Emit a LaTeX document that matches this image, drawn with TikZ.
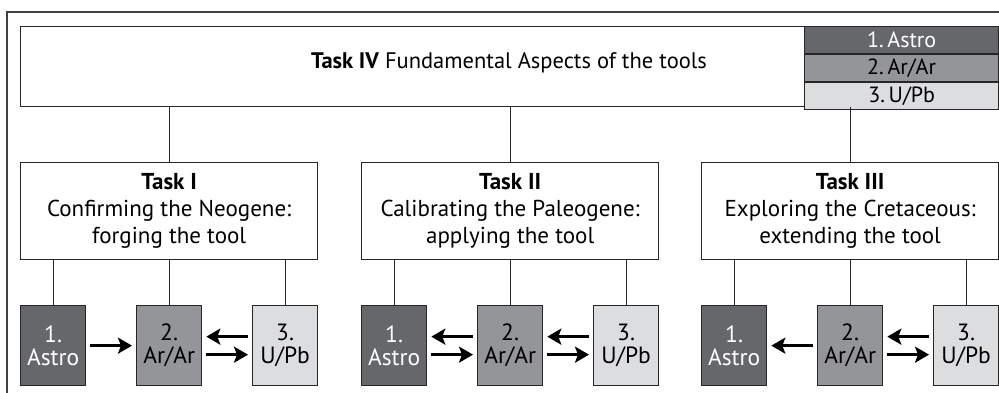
\documentclass[tikz,border=0pt]{standalone}
\usepackage{fontspec}
\setmainfont{PT Sans}
\usetikzlibrary{arrows.meta}
\definecolor{astro}{HTML}{66676A}
\definecolor{arar}{HTML}{939598}
\definecolor{upb}{HTML}{DCDDDF}
\tikzset{
  frame/.style={draw=black!85, line width=1.3pt},
  taskbox/.style={frame, fill=white, minimum width=297pt, minimum height=97pt,
    align=center, anchor=north west, inner sep=0pt, font=\fontsize{23}{27}\selectfont},
  toolbox/.style={frame, minimum width=65pt, minimum height=80pt, align=center,
    anchor=north west, inner sep=0pt, font=\fontsize{23.5}{23}\selectfont},
  keybox/.style={frame, minimum width=194pt, minimum height=26.7pt, anchor=north west,
    inner sep=0pt, font=\fontsize{22}{22}\selectfont},
  flow/.style={-{Stealth[length=14pt,width=16pt,inset=3pt]}, line width=3.6pt},
}

\begin{document}
\begin{tikzpicture}[x=1pt, y=-1pt]
        \clip (0,0) rectangle (999,392);
        \useasboundingbox (0,0) rectangle (999,392);
        % outer frame (cut off at right and bottom)
        \draw[line width=1.2pt, black!75] (7,12) rectangle (1010,410);

        % Task IV and key
        \node[frame, fill=white, minimum width=978pt, minimum height=80pt, anchor=north west, inner sep=0pt] (taskIV) at (20,26) {};
        \node[font=\fontsize{22.5}{22}\selectfont] (taskIVtext) at (509,63) {\textbf{Task IV} Fundamental Aspects of the tools};
        \node[keybox, fill=astro, text=white] (keyA) at (804,26) {1.\,Astro};
        \node[keybox, fill=arar, anchor=north] (keyB) at (keyA.south) {2.\,Ar/Ar};
        \node[keybox, fill=upb, anchor=north] (keyC) at (keyB.south) {3.\,U/Pb};

        % the three tasks
        \node[taskbox] (taskI) at (20,162) {\textbf{Task I}\\Confirming the Neogene:\\forging the tool};
        \node[taskbox] (taskII) at (361,162) {\textbf{Task II}\\Calibrating the Paleogene:\\applying the tool};
        \node[taskbox] (taskIII) at (701,162) {\textbf{Task III}\\Exploring the Cretaceous:\\extending the tool};

        \foreach \t in {taskI, taskII, taskIII}
          \draw[frame] (\t.north) -- (\t.north |- taskIV.south);

        % tool boxes
        \foreach \t/\n/\x in {taskI/1/20, taskII/2/361, taskIII/3/701} {
          \node[toolbox, fill=astro, text=white] (astro\n) at (\x,305) {1.\\Astro};
          \node[toolbox, fill=arar] (arar\n) at (\x+116,305) {2.\\Ar/Ar};
          \node[toolbox, fill=upb] (upb\n) at (\x+232,305) {3.\\U/Pb};
          \foreach \b in {astro\n, arar\n, upb\n}
            \draw[frame] (\b.north) -- (\b.north |- \t.south);
        }

        % Task I
        \draw[flow, shorten <=4pt, shorten >=4pt] (astro1.east) -- (arar1.west);
        \draw[flow, shorten <=4pt, shorten >=4pt] ([yshift=9pt]upb1.west) -- ([yshift=9pt]arar1.east);
        \draw[flow, shorten <=4pt, shorten >=4pt] ([yshift=-9pt]arar1.east) -- ([yshift=-9pt]upb1.west);
        % Task II
        \draw[flow, shorten <=4pt, shorten >=4pt] ([yshift=9pt]arar2.west) -- ([yshift=9pt]astro2.east);
        \draw[flow, shorten <=4pt, shorten >=4pt] ([yshift=-9pt]astro2.east) -- ([yshift=-9pt]arar2.west);
        \draw[flow, shorten <=4pt, shorten >=4pt] ([yshift=9pt]upb2.west) -- ([yshift=9pt]arar2.east);
        \draw[flow, shorten <=4pt, shorten >=4pt] ([yshift=-9pt]arar2.east) -- ([yshift=-9pt]upb2.west);
        % Task III
        \draw[flow, shorten <=4pt, shorten >=4pt] (arar3.west) -- (astro3.east);
        \draw[flow, shorten <=4pt, shorten >=4pt] ([yshift=9pt]upb3.west) -- ([yshift=9pt]arar3.east);
        \draw[flow, shorten <=4pt, shorten >=4pt] ([yshift=-9pt]arar3.east) -- ([yshift=-9pt]upb3.west);
\end{tikzpicture}
\end{document}
